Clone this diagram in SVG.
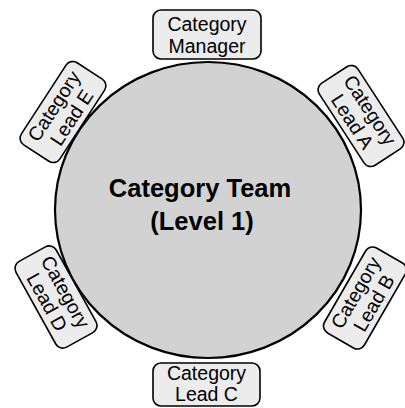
<svg xmlns="http://www.w3.org/2000/svg" width="405" height="408" viewBox="0 0 405 408">
<style>
.box{fill:#ececec;stroke:#000;stroke-width:1.6}
.lbl{font-family:"Liberation Sans",Arial,sans-serif;font-size:19.5px;fill:#000;text-anchor:middle}
.big{font-family:"Liberation Sans",Arial,sans-serif;font-size:25.5px;font-weight:bold;fill:#000;text-anchor:middle}
</style>
<rect width="405" height="408" fill="#fff"/>
<g id="team">
<ellipse cx="208" cy="210" rx="153" ry="148" fill="#d2d2d2" stroke="#000" stroke-width="2.2"/>
<text class="big" x="200" y="197">Category Team</text>
<text class="big" x="202" y="230">(Level 1)</text>
</g>
<g id="connectors"></g>
<g id="manager">
<rect class="box" x="153" y="10" width="108" height="49" rx="8"/>
<text class="lbl" x="207" y="31">Category</text>
<text class="lbl" x="207" y="53">Manager</text>
</g>
<g id="leadA" transform="translate(361,116) rotate(57)">
<rect class="box" x="-49" y="-23" width="98" height="46" rx="8"/>
<text class="lbl" x="0" y="-4">Category</text>
<text class="lbl" x="0" y="17">Lead A</text>
</g>
<g id="leadB" transform="translate(365,298) rotate(-60)">
<rect class="box" x="-49" y="-23" width="98" height="46" rx="8"/>
<text class="lbl" x="0" y="-4">Category</text>
<text class="lbl" x="0" y="17">Lead B</text>
</g>
<g id="leadC">
<rect class="box" x="153" y="363" width="107" height="43" rx="8"/>
<text class="lbl" x="206.5" y="380">Category</text>
<text class="lbl" x="206.5" y="401">Lead C</text>
</g>
<g id="leadD" transform="translate(56,297) rotate(61)">
<rect class="box" x="-49" y="-23" width="98" height="46" rx="8"/>
<text class="lbl" x="0" y="-4">Category</text>
<text class="lbl" x="0" y="17">Lead D</text>
</g>
<g id="leadE" transform="translate(63,112) rotate(-57)">
<rect class="box" x="-49" y="-23" width="98" height="46" rx="8"/>
<text class="lbl" x="0" y="-4">Category</text>
<text class="lbl" x="0" y="17">Lead E</text>
</g>
</svg>
